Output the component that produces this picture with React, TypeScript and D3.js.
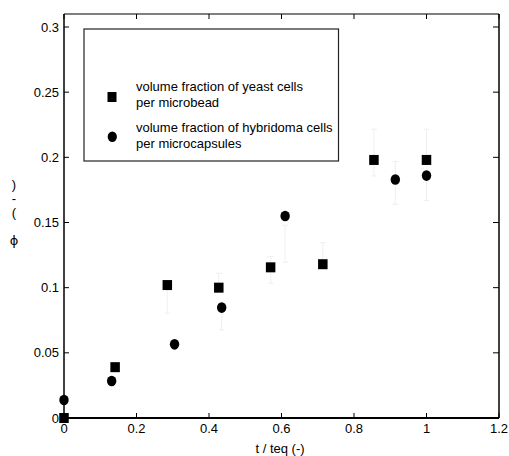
import React from "react";
import * as d3 from "d3";

const W = 509;
const H = 456;

// series 1: volume fraction of yeast cells per microbead (squares)
const yeastX = [0, 0.141, 0.285, 0.427, 0.57, 0.714, 0.855, 1.0];
const yeastY = [0, 0.039, 0.102, 0.1, 0.1156, 0.118, 0.198, 0.198];
const yeastLo = [null, null, 0.0804, 0.1, 0.1034, 0.118, 0.1857, 0.198];
const yeastHi = [null, null, 0.102, 0.111, 0.1238, 0.1345, 0.2216, 0.2216];

// series 2: volume fraction of hybridoma cells per microcapsules (circles)
const hybX = [0, 0.1315, 0.305, 0.435, 0.61, 0.914, 1.0];
const hybY = [0.0138, 0.0284, 0.0565, 0.0847, 0.155, 0.183, 0.186];
const hybLo = [null, null, null, 0.0675, 0.1195, 0.164, 0.1668];
const hybHi = [null, null, null, 0.0847, 0.148, 0.1967, 0.186];

const xTicks = [0, 0.2, 0.4, 0.6, 0.8, 1, 1.2];
const yTicks = [0, 0.05, 0.1, 0.15, 0.2, 0.25, 0.3];
const legendLines = [
  ["volume fraction of yeast cells", "per microbead"],
  ["volume fraction of hybridoma cells", "per microcapsules"],
];
const yLabelChars = ["ϕ", " ", "(", "-", ")"];
const xLabel = "t / teq (-)";

const left = 64;
const right = 499;
const top = 14;
const bottom = 418;

const fmt = (v: number) => (v === 0 ? "0" : String(+v.toFixed(2)));

export default function App() {
  const x = d3.scaleLinear().domain([0, 1.2]).range([left, right]);
  const y = d3.scaleLinear().domain([0, 0.3]).range([bottom, 27]);
  const font = "'Liberation Sans', Arial, sans-serif";
  const errColor = "#efefef";

  const errBar = (xv: number, lo: number | null, hi: number | null, key: string) => {
    if (lo == null || hi == null) return null;
    const cx = x(xv);
    return (
      <g key={key} stroke={errColor} strokeWidth={1}>
        <line x1={cx} x2={cx} y1={y(lo)} y2={y(hi)} />
        <line x1={cx - 3} x2={cx + 3} y1={y(lo)} y2={y(lo)} />
        <line x1={cx - 3} x2={cx + 3} y1={y(hi)} y2={y(hi)} />
      </g>
    );
  };

  return (
    <svg
      width={W}
      height={H}
      style={{ position: "absolute", left: 0, top: 0, display: "block" }}
      fontFamily={font}
    >
      <rect x={0} y={0} width={W} height={H} fill="#fff" />
      {/* error bars */}
      {yeastX.map((xv, i) => errBar(xv, yeastLo[i], yeastHi[i], "ye" + i))}
      {hybX.map((xv, i) => errBar(xv, hybLo[i], hybHi[i], "he" + i))}

      {/* frame */}
      <line x1={left} x2={left} y1={top} y2={bottom} stroke="#000" strokeWidth={1.5} />
      <line x1={left} x2={right} y1={bottom} y2={bottom} stroke="#000" strokeWidth={2} />
      <line x1={left} x2={right} y1={top} y2={top} stroke="#000" strokeWidth={1.2} />
      <line x1={right} x2={right} y1={top} y2={bottom} stroke="#000" strokeWidth={1.5} />

      {/* ticks */}
      {xTicks.map((t) => (
        <g key={"xt" + t}>
          <line x1={x(t)} x2={x(t)} y1={bottom} y2={bottom - 5} stroke="#000" strokeWidth={1} />
          <line x1={x(t)} x2={x(t)} y1={top} y2={top + 5} stroke="#000" strokeWidth={1} />
          <text x={x(t)} y={433} fontSize={13} textAnchor="middle" fill="#000">
            {fmt(t)}
          </text>
        </g>
      ))}
      {yTicks.map((t) => (
        <g key={"yt" + t}>
          <line x1={left} x2={left + 5} y1={y(t)} y2={y(t)} stroke="#000" strokeWidth={1} />
          <line x1={right} x2={right - 6} y1={y(t)} y2={y(t)} stroke="#000" strokeWidth={1} />
          <text x={59} y={y(t) + 4.5} fontSize={13} textAnchor="end" fill="#000">
            {fmt(t)}
          </text>
        </g>
      ))}

      {/* axis labels */}
      <text x={280} y={453} fontSize={13} textAnchor="middle" fill="#000">
        {xLabel}
      </text>
      {yLabelChars.map((c, i) => (
        <text key={"yl" + i} x={14} y={245 - i * 14} fontSize={13} textAnchor="middle" fill="#000"
          fontFamily={c === "ϕ" ? "'DejaVu Sans', sans-serif" : font}>
          {c}
        </text>
      ))}

      {/* legend */}
      <rect x={84} y={29} width={254.5} height={132} fill="none" stroke="#222" strokeWidth={1.2} />
      <rect x={107.5} y={92} width={9} height={10} fill="#000" />
      <ellipse cx={112.3} cy={136.7} rx={4.6} ry={5.2} fill="#000" />
      <text x={136} y={90.5} fontSize={13} fill="#000">{legendLines[0][0]}</text>
      <text x={136} y={106.5} fontSize={13} fill="#000">{legendLines[0][1]}</text>
      <text x={136} y={131.5} fontSize={13} fill="#000">{legendLines[1][0]}</text>
      <text x={136} y={148} fontSize={13} fill="#000">{legendLines[1][1]}</text>

      {/* markers */}
      {hybX.map((xv, i) => (
        <ellipse key={"h" + i} cx={x(xv)} cy={y(hybY[i])} rx={4.7} ry={5.3} fill="#000" />
      ))}
      {yeastX.map((xv, i) => (
        <rect key={"s" + i} x={x(xv) - 4.75} y={y(yeastY[i]) - 5} width={9.5} height={10} fill="#000" />
      ))}
    </svg>
  );
}
